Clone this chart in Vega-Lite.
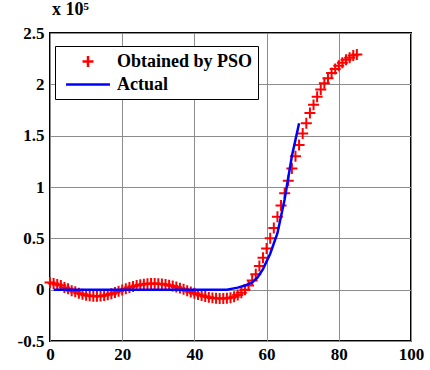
{
  "$schema": "https://vega.github.io/schema/vega-lite/v6.json",
  "autosize": "none",
  "padding": {"left": 50, "top": 33, "right": 19, "bottom": 29},
  "width": 361,
  "height": 308,
  "background": "white",
  "title": {"text": "x 10⁵", "anchor": "start", "frame": "group", "font": "Liberation Serif", "fontWeight": "bold", "fontSize": 18, "color": "black", "offset": 5, "dx": 2},
  "config": {
    "view": {"stroke": "black", "strokeWidth": 2},
    "axis": {"labelFont": "Liberation Serif", "labelFontWeight": "bold", "labelFontSize": 17, "labelColor": "black", "grid": true, "gridColor": "#8c8c8c", "gridWidth": 1, "ticks": false, "domain": false, "title": null}
  },
  "data": {"values": [
    {"x":0,"y":0.07,"s":"Obtained by PSO"},{"x":1,"y":0.06,"s":"Obtained by PSO"},{"x":2,"y":0.05,"s":"Obtained by PSO"},{"x":3,"y":0.04,"s":"Obtained by PSO"},{"x":4,"y":0.02,"s":"Obtained by PSO"},{"x":5,"y":0.01,"s":"Obtained by PSO"},{"x":6,"y":-0.01,"s":"Obtained by PSO"},{"x":7,"y":-0.02,"s":"Obtained by PSO"},{"x":8,"y":-0.035,"s":"Obtained by PSO"},{"x":9,"y":-0.045,"s":"Obtained by PSO"},
    {"x":10,"y":-0.055,"s":"Obtained by PSO"},{"x":11,"y":-0.06,"s":"Obtained by PSO"},{"x":12,"y":-0.065,"s":"Obtained by PSO"},{"x":13,"y":-0.065,"s":"Obtained by PSO"},{"x":14,"y":-0.063,"s":"Obtained by PSO"},{"x":15,"y":-0.058,"s":"Obtained by PSO"},{"x":16,"y":-0.05,"s":"Obtained by PSO"},{"x":17,"y":-0.04,"s":"Obtained by PSO"},{"x":18,"y":-0.028,"s":"Obtained by PSO"},{"x":19,"y":-0.015,"s":"Obtained by PSO"},
    {"x":20,"y":-0.003,"s":"Obtained by PSO"},{"x":21,"y":0.01,"s":"Obtained by PSO"},{"x":22,"y":0.02,"s":"Obtained by PSO"},{"x":23,"y":0.03,"s":"Obtained by PSO"},{"x":24,"y":0.04,"s":"Obtained by PSO"},{"x":25,"y":0.047,"s":"Obtained by PSO"},{"x":26,"y":0.053,"s":"Obtained by PSO"},{"x":27,"y":0.057,"s":"Obtained by PSO"},{"x":28,"y":0.06,"s":"Obtained by PSO"},{"x":29,"y":0.06,"s":"Obtained by PSO"},
    {"x":30,"y":0.058,"s":"Obtained by PSO"},{"x":31,"y":0.055,"s":"Obtained by PSO"},{"x":32,"y":0.05,"s":"Obtained by PSO"},{"x":33,"y":0.043,"s":"Obtained by PSO"},{"x":34,"y":0.035,"s":"Obtained by PSO"},{"x":35,"y":0.025,"s":"Obtained by PSO"},{"x":36,"y":0.015,"s":"Obtained by PSO"},{"x":37,"y":0.003,"s":"Obtained by PSO"},{"x":38,"y":-0.01,"s":"Obtained by PSO"},{"x":39,"y":-0.022,"s":"Obtained by PSO"},
    {"x":40,"y":-0.035,"s":"Obtained by PSO"},{"x":41,"y":-0.047,"s":"Obtained by PSO"},{"x":42,"y":-0.058,"s":"Obtained by PSO"},{"x":43,"y":-0.067,"s":"Obtained by PSO"},{"x":44,"y":-0.075,"s":"Obtained by PSO"},{"x":45,"y":-0.08,"s":"Obtained by PSO"},{"x":46,"y":-0.084,"s":"Obtained by PSO"},{"x":47,"y":-0.086,"s":"Obtained by PSO"},{"x":48,"y":-0.086,"s":"Obtained by PSO"},{"x":49,"y":-0.084,"s":"Obtained by PSO"},
    {"x":50,"y":-0.078,"s":"Obtained by PSO"},{"x":51,"y":-0.068,"s":"Obtained by PSO"},{"x":52,"y":-0.052,"s":"Obtained by PSO"},{"x":53,"y":-0.03,"s":"Obtained by PSO"},{"x":54,"y":0.0,"s":"Obtained by PSO"},{"x":55,"y":0.04,"s":"Obtained by PSO"},{"x":56,"y":0.09,"s":"Obtained by PSO"},{"x":57,"y":0.15,"s":"Obtained by PSO"},{"x":58,"y":0.23,"s":"Obtained by PSO"},{"x":59,"y":0.31,"s":"Obtained by PSO"},
    {"x":60,"y":0.4,"s":"Obtained by PSO"},{"x":61,"y":0.5,"s":"Obtained by PSO"},{"x":62,"y":0.6,"s":"Obtained by PSO"},{"x":63,"y":0.71,"s":"Obtained by PSO"},{"x":64,"y":0.82,"s":"Obtained by PSO"},{"x":65,"y":0.94,"s":"Obtained by PSO"},{"x":66,"y":1.06,"s":"Obtained by PSO"},{"x":67,"y":1.18,"s":"Obtained by PSO"},{"x":68,"y":1.3,"s":"Obtained by PSO"},{"x":69,"y":1.41,"s":"Obtained by PSO"},
    {"x":70,"y":1.52,"s":"Obtained by PSO"},{"x":71,"y":1.62,"s":"Obtained by PSO"},{"x":72,"y":1.72,"s":"Obtained by PSO"},{"x":73,"y":1.8,"s":"Obtained by PSO"},{"x":74,"y":1.88,"s":"Obtained by PSO"},{"x":75,"y":1.95,"s":"Obtained by PSO"},{"x":76,"y":2.01,"s":"Obtained by PSO"},{"x":77,"y":2.06,"s":"Obtained by PSO"},{"x":78,"y":2.11,"s":"Obtained by PSO"},{"x":79,"y":2.15,"s":"Obtained by PSO"},
    {"x":80,"y":2.18,"s":"Obtained by PSO"},{"x":81,"y":2.21,"s":"Obtained by PSO"},{"x":82,"y":2.24,"s":"Obtained by PSO"},{"x":83,"y":2.26,"s":"Obtained by PSO"},{"x":84,"y":2.28,"s":"Obtained by PSO"},{"x":85,"y":2.29,"s":"Obtained by PSO"},
    {"x":1,"y":0,"s":"Actual"},{"x":10,"y":0,"s":"Actual"},{"x":20,"y":0,"s":"Actual"},{"x":30,"y":0,"s":"Actual"},{"x":40,"y":0,"s":"Actual"},{"x":49,"y":0,"s":"Actual"},{"x":52,"y":0.02,"s":"Actual"},{"x":54,"y":0.04,"s":"Actual"},{"x":56,"y":0.07,"s":"Actual"},{"x":57.5,"y":0.12,"s":"Actual"},{"x":59,"y":0.2,"s":"Actual"},{"x":61,"y":0.35,"s":"Actual"},{"x":63,"y":0.55,"s":"Actual"},{"x":65,"y":0.88,"s":"Actual"},{"x":67,"y":1.3,"s":"Actual"},{"x":69,"y":1.62,"s":"Actual"}
  ]},
  "encoding": {
    "x": {"field": "x", "type": "quantitative", "scale": {"domain": [0, 100], "nice": false}, "axis": {"values": [0,20,40,60,80,100], "labelPadding": 5, "labelFlush": false}},
    "y": {"field": "y", "type": "quantitative", "scale": {"domain": [-0.5, 2.5], "nice": false, "zero": false}, "axis": {"values": [-0.5,0,0.5,1,1.5,2,2.5], "labelExpr": "datum.value + ''", "labelPadding": 6, "labelFlush": false}},
    "color": {"field": "s", "type": "nominal", "scale": {"domain": ["Obtained by PSO", "Actual"], "range": ["#FF0000", "#0000FF"]},
      "legend": {"title": null, "orient": "none", "legendX": 5, "legendY": 13, "padding": 5, "strokeColor": "black", "fillColor": "white", "labelFont": "Liberation Serif", "labelFontWeight": "bold", "labelFontSize": 18, "labelColor": "black", "symbolSize": 324, "symbolOffset": 17.5, "symbolStrokeWidth": 2.5, "labelOffset": 18.5, "rowPadding": 2, "labelLimit": 300}}
  },
  "layer": [
    {"transform": [{"filter": "datum.s === 'Obtained by PSO'"}],
     "mark": {"type": "point", "filled": false, "strokeWidth": 2, "size": 324, "opacity": 1},
     "encoding": {"shape": {"field": "s", "type": "nominal", "scale": {"domain": ["Obtained by PSO", "Actual"], "range": ["M-0.61,0H0.61M0,-0.61V0.61", "M-2.44,0H2.44"]}, "legend": {"title": null}}}},
    {"transform": [{"filter": "datum.s === 'Actual'"}],
     "mark": {"type": "line", "strokeWidth": 2.5},
     "encoding": {"order": {"field": "x", "type": "quantitative"}}}
  ]
}
